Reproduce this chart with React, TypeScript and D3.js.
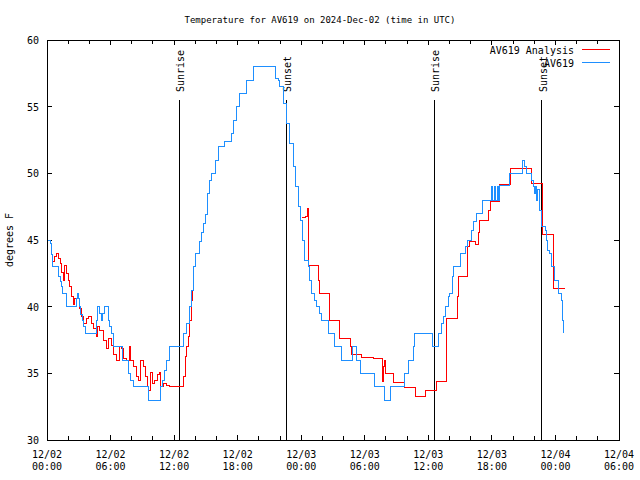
import React from 'react';
import * as d3 from 'd3';

// hours since 2024-12-02 00:00 UTC
const obsHours = [0, 0.29, 0.45, 0.53, 1.07, 1.23, 1.39, 1.49, 1.86, 2.80, 2.89, 2.99, 3.05, 3.18, 3.33, 3.49, 3.59, 4.69, 4.74, 5.00, 5.16, 5.28, 5.43, 5.78, 5.94, 6.13, 6.32, 7.14, 7.67, 7.92, 8.14, 9.56, 10.73, 10.92, 11.13, 11.29, 11.60, 12.86, 13.17, 13.49, 13.65, 13.80, 14.06, 14.43, 14.59, 14.75, 15.00, 15.13, 15.31, 15.54, 15.92, 16.16, 16.79, 17.42, 17.57, 17.90, 18.21, 18.84, 19.52, 21.60, 21.82, 21.98, 22.29, 22.61, 22.92, 23.24, 23.49, 23.70, 23.93, 24.12, 24.34, 24.66, 24.81, 24.97, 25.28, 25.45, 25.75, 25.91, 26.54, 27.17, 27.81, 28.81, 29.22, 29.62, 30.95, 31.89, 32.45, 33.71, 34.09, 34.56, 34.72, 36.38, 36.92, 37.24, 37.45, 37.64, 37.86, 38.02, 38.28, 38.39, 39.03, 39.52, 39.74, 40.07, 40.29, 40.53, 41.16, 41.95, 42.05, 42.22, 42.31, 42.50, 42.59, 42.73, 43.68, 44.93, 45.09, 45.26, 45.72, 45.89, 46.04, 46.13, 46.23, 46.32, 46.45, 46.67, 47.04, 47.14, 47.29, 47.45, 47.62, 47.92, 48.33, 48.56, 48.65, 48.71, 48.78];
const obsTemps = [45, 44.75, 43.9, 43, 42.25, 41.9, 41.5, 41, 40, 40.6, 41, 40.6, 40, 39.4, 39, 38.5, 38, 39, 40, 39.5, 39, 39.5, 40, 39, 38.5, 38, 37, 36, 35, 34.5, 34, 33, 34, 34.5, 35.25, 36, 37, 38, 38.75, 40, 41.25, 43, 44, 44.9, 45.6, 46.25, 46.9, 48.5, 49.5, 50, 51, 52, 52.4, 53, 54, 55, 56, 57, 58, 57.1, 57, 56.5, 55.25, 53.75, 52.25, 50.5, 49, 47.5, 46.5, 45, 43.5, 43, 42, 41, 40.5, 40, 39.5, 39, 38, 37, 36, 37, 36, 35, 34, 33, 34, 35, 36, 37, 38, 37, 38, 38.75, 39.25, 40, 40.75, 41, 42.25, 43, 44, 44.5, 45, 45.75, 46.4, 47, 48, 49, 48, 49, 48, 49, 48, 49.1, 50, 51, 50.5, 50, 49.5, 49, 48.5, 49, 48, 48.8, 47.25, 46, 45.75, 45, 44.25, 44, 43, 42, 41, 40.5, 40, 39, 38];

const anaHours1 = [0.59, 0.75, 0.91, 1.04, 1.23, 1.39, 1.54, 1.69, 1.86, 2.01, 2.17, 2.33, 2.48, 2.64, 3.05, 3.27, 3.49, 3.74, 3.96, 4.22, 4.37, 4.63, 4.74, 5.00, 5.31, 5.64, 5.84, 6.10, 6.32, 6.58, 6.80, 7.04, 7.20, 7.52, 7.77, 7.89, 8.14, 8.46, 8.62, 8.78, 9.08, 9.34, 9.46, 9.62, 9.79, 9.98, 10.19, 10.40, 10.66, 10.73, 10.98, 11.29, 11.60, 12.86, 12.93, 13.09, 13.20, 13.33, 13.49, 13.65, 13.75, 13.87];
const anaTemps1 = [43.4, 43.8, 44, 43.6, 43.25, 42.6, 42, 43.1, 42.5, 42, 41.5, 40.75, 40.2, 40.6, 39.9, 39.25, 38.75, 39.1, 39.3, 38.75, 38.4, 37.75, 38.5, 38.25, 37.5, 36.9, 37.6, 37.1, 36.4, 36, 37, 36.9, 36.1, 36, 37, 36, 35.5, 34.75, 34.5, 36, 35.5, 34.75, 34, 33.75, 35.1, 34.25, 34.5, 34.9, 35.1, 34, 34.25, 34.1, 34.05, 34.1, 34.75, 36.25, 37, 37.75, 39, 40.5, 41.25, 42];

const anaHours2 = [24.03, 24.44, 24.60, 24.66, 25.60, 25.69, 26.64, 26.70, 27.64, 28.65, 28.78, 29.69, 30.79, 31.67, 31.80, 31.89, 31.99, 32.67, 33.78, 34.78, 35.73, 36.79, 37.76, 38.71, 38.84, 39.69, 39.84, 40.47, 40.69, 40.85, 41.72, 41.86, 42.73, 43.74, 45.72, 46.76, 47.77, 47.85, 48.86];
const anaTemps2 = [46.7, 46.8, 47.4, 43.1, 42, 41, 39.9, 38.95, 37.6, 37, 36.4, 36.2, 36.1, 34.4, 35.5, 36, 35, 34.3, 33.95, 33.3, 33.7, 34.4, 39.1, 40.75, 42.3, 44.5, 44.9, 44.7, 45.6, 46.5, 47.25, 47.9, 49.2, 50.4, 49.25, 45.45, 42.5, 41.4, 41.4];

const sunLabels = ['Sunrise', 'Sunset', 'Sunrise', 'Sunset'];
const sunHours = [12.48, 22.61, 36.54, 46.73];

const xTickHours = [0, 6, 12, 18, 24, 30, 36, 42, 48, 54];
const xTickDates = ['12/02', '12/02', '12/02', '12/02', '12/03', '12/03', '12/03', '12/03', '12/04', '12/04'];
const xTickClock = ['00:00', '06:00', '12:00', '18:00', '00:00', '06:00', '12:00', '18:00', '00:00', '06:00'];
const xMinorHours = d3.range(0, 55, 2);
const yTicks = [30, 35, 40, 45, 50, 55, 60];

const seriesNames = ['AV619 Analysis', 'AV619'];
const seriesColors = ['#ff0000', '#1e8fff'];

const W = 640, H = 480;
const L = 47, R = 619, T = 40, B = 440;
const FONT = '"DejaVu Sans Mono", monospace';

export default function App() {
  const x = d3.scaleLinear().domain([0, 54]).range([L, R]);
  const y = d3.scaleLinear().domain([30, 60]).range([B, T]);
  const line = d3.line<[number, number]>().x(d => x(d[0])).y(d => y(d[1])).curve(d3.curveStepAfter);
  const obs = line(obsHours.map((h, i) => [h, obsTemps[i]]));
  const ana1 = line(anaHours1.map((h, i) => [h, anaTemps1[i]]));
  const ana2 = line(anaHours2.map((h, i) => [h, anaTemps2[i]]));

  return (
    <svg width={W} height={H} style={{ position: 'absolute', left: 0, top: 0, background: '#fff' }} fontFamily={FONT} fontSize={10}>
      <rect x={0} y={0} width={W} height={H} fill="#fff" />
      <text x={320} y={23} textAnchor="middle" fontSize={9}>Temperature for AV619 on 2024-Dec-02 (time in UTC)</text>
      <text transform={`translate(13,240) rotate(-90)`} textAnchor="middle">degrees F</text>

      {yTicks.map(v => (
        <g key={'y' + v}>
          <line x1={L} x2={L + 5} y1={y(v)} y2={y(v)} stroke="#000" shapeRendering="crispEdges" />
          <line x1={R - 5} x2={R} y1={y(v)} y2={y(v)} stroke="#000" shapeRendering="crispEdges" />
          <text x={39} y={y(v) + 4} textAnchor="end">{v}</text>
        </g>
      ))}
      {xMinorHours.map(h => {
        const len = h % 6 === 0 ? 5 : 4;
        return (
          <g key={'xm' + h}>
            <line x1={x(h)} x2={x(h)} y1={B} y2={B - len} stroke="#000" shapeRendering="crispEdges" />
            <line x1={x(h)} x2={x(h)} y1={T} y2={T + len} stroke="#000" shapeRendering="crispEdges" />
          </g>
        );
      })}
      {xTickHours.map((h, i) => (
        <g key={'xl' + h}>
          <text x={x(h)} y={458} textAnchor="middle">{xTickDates[i]}</text>
          <text x={x(h)} y={470} textAnchor="middle">{xTickClock[i]}</text>
        </g>
      ))}

      {sunHours.map((h, i) => (
        <g key={'sun' + i}>
          <line x1={x(h)} x2={x(h)} y1={100} y2={B} stroke="#000" shapeRendering="crispEdges" />
          <text transform={`translate(${x(h) + 5},92) rotate(-90)`} textAnchor="start">{sunLabels[i]}</text>
        </g>
      ))}

      <path d={ana1 || ''} fill="none" stroke={seriesColors[0]} strokeWidth={1} shapeRendering="crispEdges" />
      <path d={ana2 || ''} fill="none" stroke={seriesColors[0]} strokeWidth={1} shapeRendering="crispEdges" />
      <path d={obs || ''} fill="none" stroke={seriesColors[1]} strokeWidth={1} shapeRendering="crispEdges" />

      {seriesNames.map((n, i) => (
        <g key={'lg' + i}>
          <text x={574} y={54 + i * 13} textAnchor="end">{n}</text>
          <line x1={582} x2={610} y1={49.5 + i * 13} y2={49.5 + i * 13} stroke={seriesColors[i]} shapeRendering="crispEdges" />
        </g>
      ))}

      <rect x={L} y={T} width={R - L} height={B - T} fill="none" stroke="#000" shapeRendering="crispEdges" />
    </svg>
  );
}
